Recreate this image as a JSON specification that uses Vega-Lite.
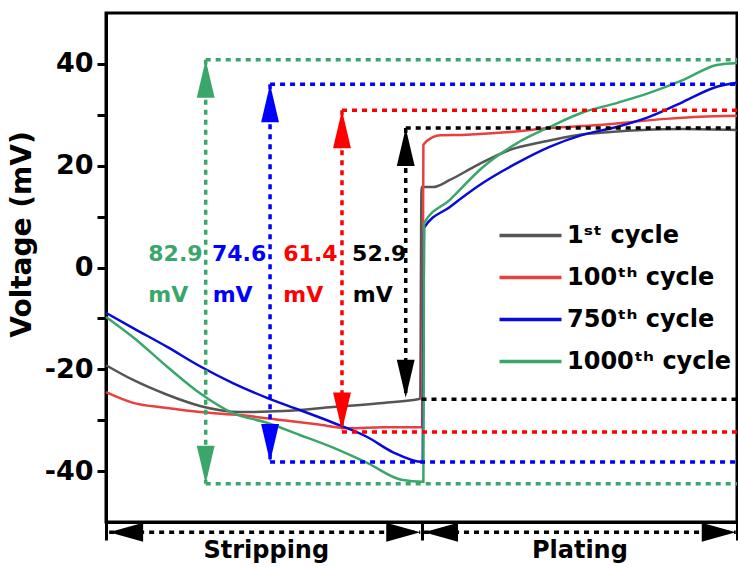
{
  "$schema": "https://vega.github.io/schema/vega-lite/v6.json",
  "width": 631,
  "height": 509,
  "autosize": {"type": "none"},
  "padding": {"left": 106, "top": 13, "right": 1, "bottom": 46},
  "config": {
    "font": "DejaVu Sans",
    "view": {"stroke": "black", "strokeWidth": 3}
  },
  "datasets": {
    "curves": [
      {"series": "1ˢᵗ cycle", "x": 0, "y": -19.2},
      {"series": "1ˢᵗ cycle", "x": 4.3, "y": -22.1},
      {"series": "1ˢᵗ cycle", "x": 9.7, "y": -25.0},
      {"series": "1ˢᵗ cycle", "x": 14.9, "y": -27.2},
      {"series": "1ˢᵗ cycle", "x": 21.2, "y": -28.4},
      {"series": "1ˢᵗ cycle", "x": 28.1, "y": -28.2},
      {"series": "1ˢᵗ cycle", "x": 36.0, "y": -27.4},
      {"series": "1ˢᵗ cycle", "x": 43.9, "y": -26.6},
      {"series": "1ˢᵗ cycle", "x": 49.8, "y": -25.8},
      {"series": "1ˢᵗ cycle", "x": 50.0, "y": 15.8},
      {"series": "1ˢᵗ cycle", "x": 51.8, "y": 15.8},
      {"series": "1ˢᵗ cycle", "x": 54.5, "y": 17.2},
      {"series": "1ˢᵗ cycle", "x": 58.8, "y": 20.1},
      {"series": "1ˢᵗ cycle", "x": 64.0, "y": 23.1},
      {"series": "1ˢᵗ cycle", "x": 69.3, "y": 24.7},
      {"series": "1ˢᵗ cycle", "x": 74.6, "y": 26.0},
      {"series": "1ˢᵗ cycle", "x": 79.9, "y": 26.6},
      {"series": "1ˢᵗ cycle", "x": 85.1, "y": 27.0},
      {"series": "1ˢᵗ cycle", "x": 91.4, "y": 27.2},
      {"series": "1ˢᵗ cycle", "x": 100, "y": 27.0},

      {"series": "100ᵗʰ cycle", "x": 0, "y": -24.5},
      {"series": "100ᵗʰ cycle", "x": 4.3, "y": -26.6},
      {"series": "100ᵗʰ cycle", "x": 9.7, "y": -27.6},
      {"series": "100ᵗʰ cycle", "x": 14.9, "y": -28.4},
      {"series": "100ᵗʰ cycle", "x": 21.2, "y": -29.0},
      {"series": "100ᵗʰ cycle", "x": 28.1, "y": -30.0},
      {"series": "100ᵗʰ cycle", "x": 33.4, "y": -30.8},
      {"series": "100ᵗʰ cycle", "x": 38.6, "y": -31.6},
      {"series": "100ᵗʰ cycle", "x": 43.9, "y": -31.4},
      {"series": "100ᵗʰ cycle", "x": 50.1, "y": -31.4},
      {"series": "100ᵗʰ cycle", "x": 50.3, "y": 24.1},
      {"series": "100ᵗʰ cycle", "x": 51.8, "y": 25.6},
      {"series": "100ᵗʰ cycle", "x": 53.0, "y": 26.0},
      {"series": "100ᵗʰ cycle", "x": 57.2, "y": 26.1},
      {"series": "100ᵗʰ cycle", "x": 64.0, "y": 26.6},
      {"series": "100ᵗʰ cycle", "x": 70.3, "y": 27.4},
      {"series": "100ᵗʰ cycle", "x": 78.1, "y": 28.0},
      {"series": "100ᵗʰ cycle", "x": 83.4, "y": 28.6},
      {"series": "100ᵗʰ cycle", "x": 88.7, "y": 29.2},
      {"series": "100ᵗʰ cycle", "x": 94.0, "y": 29.6},
      {"series": "100ᵗʰ cycle", "x": 100, "y": 29.8},

      {"series": "750ᵗʰ cycle", "x": 0, "y": -8.9},
      {"series": "750ᵗʰ cycle", "x": 4.3, "y": -11.9},
      {"series": "750ᵗʰ cycle", "x": 9.7, "y": -15.6},
      {"series": "750ᵗʰ cycle", "x": 14.9, "y": -19.4},
      {"series": "750ᵗʰ cycle", "x": 20.1, "y": -22.7},
      {"series": "750ᵗʰ cycle", "x": 25.5, "y": -25.6},
      {"series": "750ᵗʰ cycle", "x": 30.7, "y": -28.0},
      {"series": "750ᵗʰ cycle", "x": 35.8, "y": -30.4},
      {"series": "750ᵗʰ cycle", "x": 41.4, "y": -33.3},
      {"series": "750ᵗʰ cycle", "x": 45.5, "y": -36.3},
      {"series": "750ᵗʰ cycle", "x": 50.2, "y": -38.2},
      {"series": "750ᵗʰ cycle", "x": 50.4, "y": 7.8},
      {"series": "750ᵗʰ cycle", "x": 54.5, "y": 11.9},
      {"series": "750ᵗʰ cycle", "x": 59.7, "y": 16.6},
      {"series": "750ᵗʰ cycle", "x": 65.1, "y": 20.5},
      {"series": "750ᵗʰ cycle", "x": 70.3, "y": 23.7},
      {"series": "750ᵗʰ cycle", "x": 75.4, "y": 26.0},
      {"series": "750ᵗʰ cycle", "x": 80.9, "y": 27.6},
      {"series": "750ᵗʰ cycle", "x": 86.1, "y": 29.6},
      {"series": "750ᵗʰ cycle", "x": 91.4, "y": 32.5},
      {"series": "750ᵗʰ cycle", "x": 96.8, "y": 35.5},
      {"series": "750ᵗʰ cycle", "x": 100, "y": 36.3},

      {"series": "1000ᵗʰ cycle", "x": 0, "y": -9.7},
      {"series": "1000ᵗʰ cycle", "x": 4.3, "y": -13.7},
      {"series": "1000ᵗʰ cycle", "x": 9.7, "y": -19.5},
      {"series": "1000ᵗʰ cycle", "x": 14.9, "y": -24.7},
      {"series": "1000ᵗʰ cycle", "x": 20.1, "y": -28.6},
      {"series": "1000ᵗʰ cycle", "x": 25.5, "y": -30.5},
      {"series": "1000ᵗʰ cycle", "x": 30.7, "y": -32.9},
      {"series": "1000ᵗʰ cycle", "x": 35.8, "y": -35.3},
      {"series": "1000ᵗʰ cycle", "x": 41.4, "y": -38.4},
      {"series": "1000ᵗʰ cycle", "x": 46.8, "y": -41.7},
      {"series": "1000ᵗʰ cycle", "x": 50.3, "y": -42.1},
      {"series": "1000ᵗʰ cycle", "x": 50.4, "y": 8.7},
      {"series": "1000ᵗʰ cycle", "x": 54.5, "y": 13.3},
      {"series": "1000ᵗʰ cycle", "x": 59.7, "y": 19.7},
      {"series": "1000ᵗʰ cycle", "x": 65.1, "y": 24.4},
      {"series": "1000ᵗʰ cycle", "x": 70.3, "y": 27.6},
      {"series": "1000ᵗʰ cycle", "x": 75.4, "y": 30.4},
      {"series": "1000ᵗʰ cycle", "x": 80.9, "y": 32.3},
      {"series": "1000ᵗʰ cycle", "x": 86.1, "y": 34.3},
      {"series": "1000ᵗʰ cycle", "x": 91.4, "y": 36.8},
      {"series": "1000ᵗʰ cycle", "x": 96.8, "y": 39.8},
      {"series": "1000ᵗʰ cycle", "x": 100, "y": 40.2}
    ],
    "spans": [
      {"series": "1ˢᵗ cycle", "x": 47.5, "y": 27.4, "y2": -25.6},
      {"series": "100ᵗʰ cycle", "x": 37.4, "y": 30.9, "y2": -32.0},
      {"series": "750ᵗʰ cycle", "x": 26.0, "y": 36.0, "y2": -38.2},
      {"series": "1000ᵗʰ cycle", "x": 15.8, "y": 40.8, "y2": -42.5}
    ],
    "levels": [
      {"series": "1ˢᵗ cycle", "x": 47.5, "x2": 100, "y": 27.4},
      {"series": "1ˢᵗ cycle", "x": 50.0, "x2": 100, "y": -25.9},
      {"series": "100ᵗʰ cycle", "x": 37.4, "x2": 100, "y": 30.9},
      {"series": "100ᵗʰ cycle", "x": 37.4, "x2": 100, "y": -32.3},
      {"series": "750ᵗʰ cycle", "x": 26.0, "x2": 100, "y": 36.0},
      {"series": "750ᵗʰ cycle", "x": 26.0, "x2": 100, "y": -38.2},
      {"series": "1000ᵗʰ cycle", "x": 15.8, "x2": 100, "y": 40.8},
      {"series": "1000ᵗʰ cycle", "x": 15.8, "x2": 100, "y": -42.5}
    ],
    "notes": [
      {"series": "1000ᵗʰ cycle", "x": 6.7, "y": 2.6, "text": "82.9"},
      {"series": "1000ᵗʰ cycle", "x": 6.7, "y": -5.4, "text": "mV"},
      {"series": "750ᵗʰ cycle", "x": 16.8, "y": 2.6, "text": "74.6"},
      {"series": "750ᵗʰ cycle", "x": 16.9, "y": -5.4, "text": "mV"},
      {"series": "100ᵗʰ cycle", "x": 28.1, "y": 2.6, "text": "61.4"},
      {"series": "100ᵗʰ cycle", "x": 28.1, "y": -5.4, "text": "mV"},
      {"series": "1ˢᵗ cycle", "x": 39.0, "y": 2.6, "text": "52.9"},
      {"series": "1ˢᵗ cycle", "x": 39.1, "y": -5.4, "text": "mV"}
    ],
    "phases": [
      {"phase": "Stripping", "x": 0.5, "x2": 49.8, "center": 25.4, "y": -52.0, "ty": -55.7},
      {"phase": "Plating", "x": 50.4, "x2": 99.8, "center": 75.1, "y": -52.0, "ty": -55.7}
    ]
  },
  "layer": [
    {
      "data": {"name": "curves"},
      "mark": {"type": "line", "strokeWidth": 2.5, "interpolate": "monotone"},
      "encoding": {
        "x": {
          "field": "x", "type": "quantitative",
          "scale": {"domain": [0, 100], "nice": false, "zero": false},
          "axis": {
            "title": null, "values": [0, 50, 100], "labels": false,
            "tickSize": 18, "tickWidth": 3, "tickColor": "black",
            "domainWidth": 3, "domainColor": "black", "grid": false
          }
        },
        "y": {
          "field": "y", "type": "quantitative",
          "scale": {"domain": [-50, 50], "nice": false, "zero": false},
          "axis": {
            "title": "Voltage (mV)",
            "titleFont": "DejaVu Sans", "titleFontSize": 28, "titleFontWeight": "bold",
            "titleColor": "black", "titlePadding": 8, "titleY": 221,
            "values": [-40, -30, -20, -10, 0, 10, 20, 30, 40],
            "labelExpr": "datum.value % 20 === 0 ? '' + datum.value : ''",
            "labelFont": "DejaVu Sans", "labelFontSize": 27, "labelFontWeight": "bold",
            "labelColor": "black", "labelPadding": 4,
            "tickSize": 9, "tickWidth": 3, "tickColor": "black",
            "domainWidth": 3, "domainColor": "black", "grid": false
          }
        },
        "color": {
          "field": "series", "type": "nominal",
          "scale": {
            "domain": ["1ˢᵗ cycle", "100ᵗʰ cycle", "750ᵗʰ cycle", "1000ᵗʰ cycle"],
            "range": ["#555555", "#e8403f", "#0a0ad8", "#3aa66a"]
          },
          "legend": {
            "orient": "none", "legendX": 412, "legendY": 210,
            "title": null, "padding": 0, "labelLimit": 0,
            "symbolType": "M-3,0L3,0", "symbolSize": 427, "symbolStrokeWidth": 3.5,
            "labelFont": "DejaVu Sans", "labelFontWeight": "bold", "labelFontSize": 24,
            "labelColor": "black", "labelOffset": 24, "rowPadding": 17
          }
        }
      }
    },
    {
      "data": {"name": "spans"},
      "mark": {"type": "rule", "strokeWidth": 3.5, "strokeDash": [5, 5]},
      "encoding": {
        "x": {"field": "x", "type": "quantitative"},
        "y": {"field": "y", "type": "quantitative"},
        "y2": {"field": "y2"},
        "color": {
          "field": "series", "type": "nominal",
          "scale": {
            "domain": ["1ˢᵗ cycle", "100ᵗʰ cycle", "750ᵗʰ cycle", "1000ᵗʰ cycle"],
            "range": ["#000000", "#ff0000", "#0000ff", "#3aa66a"]
          },
          "legend": null
        }
      }
    },
    {
      "data": {"name": "levels"},
      "mark": {"type": "rule", "strokeWidth": 3.5, "strokeDash": [5, 5]},
      "encoding": {
        "x": {"field": "x", "type": "quantitative"},
        "x2": {"field": "x2"},
        "y": {"field": "y", "type": "quantitative"},
        "color": {
          "field": "series", "type": "nominal",
          "scale": {
            "domain": ["1ˢᵗ cycle", "100ᵗʰ cycle", "750ᵗʰ cycle", "1000ᵗʰ cycle"],
            "range": ["#000000", "#ff0000", "#0000ff", "#3aa66a"]
          },
          "legend": null
        }
      }
    },
    {
      "data": {"name": "spans"},
      "mark": {"type": "point", "filled": true, "opacity": 1, "size": 1444, "shape": "M0,0L0.47,2L-0.47,2Z"},
      "encoding": {
        "x": {"field": "x", "type": "quantitative"},
        "y": {"field": "y", "type": "quantitative"},
        "color": {
          "field": "series", "type": "nominal",
          "scale": {
            "domain": ["1ˢᵗ cycle", "100ᵗʰ cycle", "750ᵗʰ cycle", "1000ᵗʰ cycle"],
            "range": ["#000000", "#ff0000", "#0000ff", "#3aa66a"]
          },
          "legend": null
        }
      }
    },
    {
      "data": {"name": "spans"},
      "mark": {"type": "point", "filled": true, "opacity": 1, "size": 1444, "shape": "M0,0L0.47,-2L-0.47,-2Z"},
      "encoding": {
        "x": {"field": "x", "type": "quantitative"},
        "y": {"field": "y2", "type": "quantitative"},
        "color": {
          "field": "series", "type": "nominal",
          "scale": {
            "domain": ["1ˢᵗ cycle", "100ᵗʰ cycle", "750ᵗʰ cycle", "1000ᵗʰ cycle"],
            "range": ["#000000", "#ff0000", "#0000ff", "#3aa66a"]
          },
          "legend": null
        }
      }
    },
    {
      "data": {"name": "notes"},
      "mark": {"type": "text", "align": "left", "baseline": "middle", "fontSize": 22, "fontWeight": "bold", "font": "DejaVu Sans"},
      "encoding": {
        "x": {"field": "x", "type": "quantitative"},
        "y": {"field": "y", "type": "quantitative"},
        "text": {"field": "text"},
        "color": {
          "field": "series", "type": "nominal",
          "scale": {
            "domain": ["1ˢᵗ cycle", "100ᵗʰ cycle", "750ᵗʰ cycle", "1000ᵗʰ cycle"],
            "range": ["#000000", "#ff0000", "#0000ff", "#3aa66a"]
          },
          "legend": null
        }
      }
    },
    {
      "data": {"name": "phases"},
      "mark": {"type": "rule", "strokeWidth": 3.5, "strokeDash": [5, 5], "color": "black"},
      "encoding": {
        "x": {"field": "x", "type": "quantitative"},
        "x2": {"field": "x2"},
        "y": {"field": "y", "type": "quantitative"}
      }
    },
    {
      "data": {"name": "phases"},
      "mark": {"type": "point", "filled": true, "opacity": 1, "size": 1156, "color": "black", "shape": "M0,0L2,-0.56L2,0.56Z"},
      "encoding": {
        "x": {"field": "x", "type": "quantitative"},
        "y": {"field": "y", "type": "quantitative"}
      }
    },
    {
      "data": {"name": "phases"},
      "mark": {"type": "point", "filled": true, "opacity": 1, "size": 1156, "color": "black", "shape": "M0,0L-2,-0.56L-2,0.56Z"},
      "encoding": {
        "x": {"field": "x2", "type": "quantitative"},
        "y": {"field": "y", "type": "quantitative"}
      }
    },
    {
      "data": {"name": "phases"},
      "mark": {"type": "text", "align": "center", "baseline": "middle", "fontSize": 24, "fontWeight": "bold", "font": "DejaVu Sans", "color": "black"},
      "encoding": {
        "x": {"field": "center", "type": "quantitative"},
        "y": {"field": "ty", "type": "quantitative"},
        "text": {"field": "phase"}
      }
    }
  ],
  "resolve": {"scale": {"color": "independent"}}
}
